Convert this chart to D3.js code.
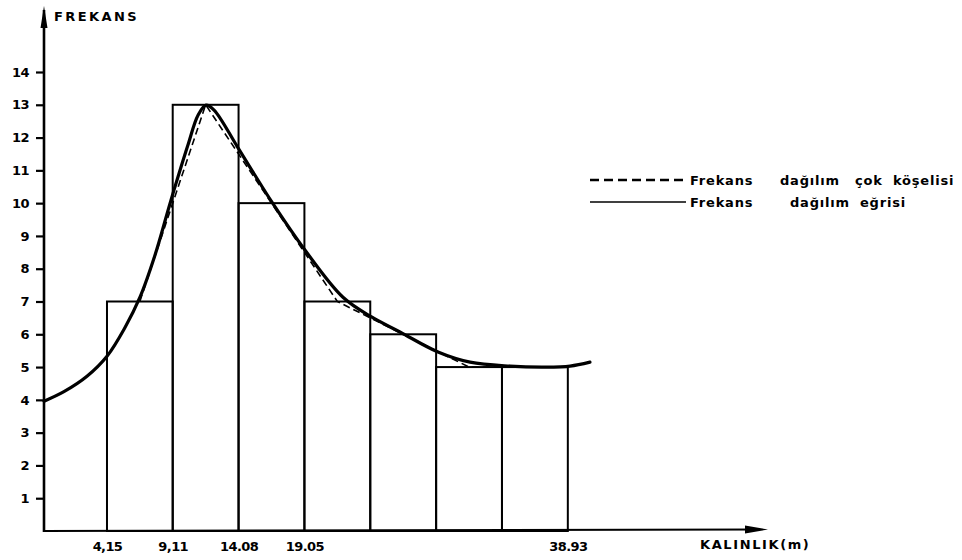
<!DOCTYPE html>
<html><head><meta charset="utf-8">
<script src="https://cdn.jsdelivr.net/npm/d3@7"></script>
<style>
body{margin:0;background:#fff;}
text{font-family:"DejaVu Sans",sans-serif;font-weight:bold;fill:#000;}
</style></head>
<body><svg id="c" width="962" height="560"></svg>
<script>
// ---- data ----
const classEdges = [4.15, 9.11, 14.08, 19.05, 24.02, 28.99, 33.96, 38.93];
const frequencies = [7, 13, 10, 7, 6, 5, 5];
const xTickValues = [4.15, 9.11, 14.08, 19.05, 38.93];
const xTickLabels = ["4,15", "9,11", "14.08", "19.05", "38.93"];
const yTickValues = [1,2,3,4,5,6,7,8,9,10,11,12,13,14];
// smooth frequency curve
const curveX = [-0.6, 0.9, 2.64, 4.15, 5.5, 6.64, 7.77, 8.98, 10.26, 11.02, 11.62, 12.23, 13.96, 15.32, 16.6, 19.09, 21.96, 24.15, 26.26, 29.13, 31.55, 34.57, 37.2, 39.1, 40.6];
const curveY = [3.96, 4.25, 4.72, 5.33, 6.2, 7.13, 8.41, 10.09, 11.77, 12.68, 12.99, 12.84, 11.74, 10.85, 10.03, 8.57, 7.13, 6.52, 6.07, 5.46, 5.15, 5.03, 5.0, 5.03, 5.15];
const legendLabels = ["Frekans dağılım çok köşelisi", "Frekans dağılım eğrisi"];

// ---- layout ----
const svg = d3.select("#c");
const x = d3.scaleLinear().domain([0, 40]).range([52, 582]);
const y = d3.scaleLinear().domain([0, 14]).range([531, 72]);
const axisX = 44, axisY = 531;

// bars
const bars = frequencies.map((f, i) => ({x0: classEdges[i], x1: classEdges[i+1], f}));
svg.append("g").selectAll("rect").data(bars).join("rect")
  .attr("x", d => x(d.x0)).attr("y", d => y(d.f))
  .attr("width", d => x(d.x1) - x(d.x0)).attr("height", d => y(0) - y(d.f))
  .attr("fill", "none").attr("stroke", "#000").attr("stroke-width", 2);

// frequency polygon (dashed)
const poly = bars.map(d => [(d.x0 + d.x1) / 2, d.f]);
svg.append("path").datum(poly)
  .attr("d", d3.line().x(d => x(d[0])).y(d => y(d[1])))
  .attr("fill", "none").attr("stroke", "#000").attr("stroke-width", 1.6)
  .attr("stroke-dasharray", "7,4");

// smooth curve
const cpts = curveX.map((v, i) => [v, curveY[i]]);
svg.append("path").datum(cpts)
  .attr("d", d3.line().x(d => x(d[0])).y(d => y(d[1])).curve(d3.curveCatmullRom.alpha(0.5)))
  .attr("fill", "none").attr("stroke", "#000").attr("stroke-width", 3.2).attr("stroke-linecap", "round");

// y axis
const yAxis = d3.axisLeft(y).tickValues(yTickValues).tickSize(8).tickPadding(7).tickFormat(d3.format("d"));
const gy = svg.append("g").attr("transform", `translate(${axisX},0)`).call(yAxis);
gy.select(".domain").remove();
gy.selectAll(".tick line").attr("stroke-width", 2.2);
gy.selectAll(".tick text").attr("font-size", 13).attr("font-family", "DejaVu Sans").attr("font-weight", "bold").attr("letter-spacing", -0.5);
svg.append("line").attr("x1", axisX).attr("x2", axisX).attr("y1", axisY + 1).attr("y2", 10)
  .attr("stroke", "#000").attr("stroke-width", 2.6);
svg.append("path").attr("d", `M${axisX},6 L${axisX-3.5},28 L${axisX+3.5},28 Z`).attr("fill", "#000");
svg.append("text").attr("x", 54).attr("y", 21).attr("font-size", 13).attr("letter-spacing", 2.4).text("FREKANS");

// x axis
const xAxis = d3.axisBottom(x).tickValues(xTickValues).tickSize(0).tickPadding(11)
  .tickFormat((d, i) => xTickLabels[i]);
const gx = svg.append("g").attr("transform", `translate(0,${axisY})`).call(xAxis);
gx.select(".domain").remove();
gx.selectAll(".tick text").attr("font-size", 13).attr("font-family", "DejaVu Sans").attr("font-weight", "bold").attr("letter-spacing", -0.6);
svg.append("line").attr("x1", axisX - 1).attr("x2", 760).attr("y1", axisY).attr("y2", axisY - 1.5)
  .attr("stroke", "#000").attr("stroke-width", 2);
svg.append("path").attr("d", `M768,${axisY-1.5} L745,${axisY-5.5} L745,${axisY+2.5} Z`).attr("fill", "#000");
svg.append("text").attr("x", 700).attr("y", 549).attr("font-size", 13).attr("letter-spacing", 1.6).text("KALINLIK(m)");

// legend
const lg = svg.append("g");
const legendY = [180, 202];
const legendWordX = [[690, 780, 855, 893], [690, 790, 860]];
lg.append("line").attr("x1", 590).attr("x2", 686).attr("y1", legendY[0]).attr("y2", legendY[0])
  .attr("stroke", "#000").attr("stroke-width", 2.6).attr("stroke-dasharray", "9,5");
lg.append("line").attr("x1", 590).attr("x2", 686).attr("y1", legendY[1]).attr("y2", legendY[1])
  .attr("stroke", "#000").attr("stroke-width", 1.6);
legendLabels.forEach((lab, i) => {
  const t = lg.append("text").attr("y", legendY[i] + 5).attr("font-size", 13).attr("letter-spacing", 0.8);
  lab.split(" ").forEach((w, j) => t.append("tspan").attr("x", legendWordX[i][j]).text(w));
});
</script></body></html>
